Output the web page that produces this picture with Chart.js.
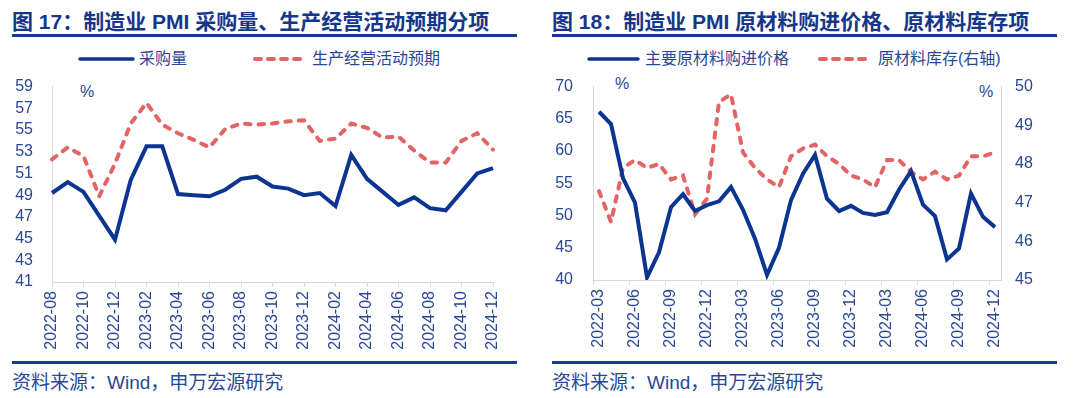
<!DOCTYPE html>
<html>
<head>
<meta charset="utf-8">
<script src="https://cdn.jsdelivr.net/npm/chart.js@4.4.1/dist/chart.umd.min.js"></script>
<style>
  body { margin: 0; width: 1080px; height: 398px; background: #fff; position: relative; overflow: hidden;
         font-family: "Liberation Sans", "Noto Sans CJK SC", sans-serif; color: #2a4795; }
  .panel { position: absolute; top: 0; width: 540px; height: 398px; }
  .title { position: absolute; left: 12px; top: 10px; font-size: 21px; font-weight: bold; color: #16368a;
           line-height: 24px; white-space: nowrap; }
  .rule { position: absolute; left: 12px; width: 505px; height: 3px; background: #133b90; }
  .lg { position: absolute; top: 50px; font-size: 16px; line-height: 18px; white-space: nowrap; }
  .lgline { position: absolute; top: 54px; }
  .pct { position: absolute; font-size: 16px; line-height: 18px; }
  .src { position: absolute; left: 12px; top: 372px; font-size: 19px; line-height: 22px; white-space: nowrap; }
  canvas { position: absolute; left: 0; }
</style>
</head>
<body>
<div class="panel" style="left:0">
  <div class="title">图 17：制造业 PMI 采购量、生产经营活动预期分项</div>
  <div class="rule" style="top:34px"></div>
  <svg class="lgline" style="left:75px" width="64" height="10"><line x1="5" y1="5" x2="58" y2="5" stroke="#0b3590" stroke-width="3.5" stroke-linecap="round"/></svg>
  <div class="lg" style="left:139px">采购量</div>
  <svg class="lgline" style="left:250px" width="62" height="10"><line x1="5" y1="5" x2="56" y2="5" stroke="#e26464" stroke-width="4" stroke-linecap="round" stroke-dasharray="6 7"/></svg>
  <div class="lg" style="left:312px">生产经营活动预期</div>
  <div class="pct" style="left:80px;top:83px">%</div>
  <canvas id="c17" width="540" height="302" style="top:58px"></canvas>
  <div class="rule" style="top:361px"></div>
  <div class="src">资料来源：Wind，申万宏源研究</div>
</div>
<div class="panel" style="left:540px">
  <div class="title">图 18：制造业 PMI 原材料购进价格、原材料库存项</div>
  <div class="rule" style="top:34px"></div>
  <svg class="lgline" style="left:44px" width="60" height="10"><line x1="5" y1="5" x2="54" y2="5" stroke="#0b3590" stroke-width="3.5" stroke-linecap="round"/></svg>
  <div class="lg" style="left:105px">主要原材料购进价格</div>
  <svg class="lgline" style="left:275px" width="62" height="10"><line x1="5" y1="5" x2="56" y2="5" stroke="#e26464" stroke-width="4" stroke-linecap="round" stroke-dasharray="6 7"/></svg>
  <div class="lg" style="left:338px">原材料库存(右轴)</div>
  <div class="pct" style="left:75px;top:75px">%</div>
  <div class="pct" style="left:439px;top:83px">%</div>
  <canvas id="c18" width="540" height="303" style="top:57px"></canvas>
  <div class="rule" style="top:361px"></div>
  <div class="src">资料来源：Wind，申万宏源研究</div>
</div>
<script>
// figure 17: purchase quantity vs production expectations
const months17 = ['2022-08','2022-09','2022-10','2022-11','2022-12',
  '2023-01','2023-02','2023-03','2023-04','2023-05','2023-06','2023-07','2023-08','2023-09','2023-10','2023-11','2023-12',
  '2024-01','2024-02','2024-03','2024-04','2024-05','2024-06','2024-07','2024-08','2024-09','2024-10','2024-11','2024-12'];
const purchase = [49.2, 50.2, 49.3, 47.1, 44.9,
  50.4, 53.5, 53.5, 49.1, 49.0, 48.9, 49.5, 50.5, 50.7, 49.8, 49.6, 49.0,
  49.2, 48.0, 52.7, 50.5, 49.3, 48.1, 48.8, 47.8, 47.6, 49.3, 51.0, 51.5];
const expectation = [52.3, 53.4, 52.6, 48.9, 51.9,
  55.6, 57.5, 55.5, 54.7, 54.1, 53.4, 55.1, 55.6, 55.5, 55.6, 55.8, 55.9,
  54.0, 54.2, 55.6, 55.2, 54.3, 54.4, 53.1, 52.0, 52.0, 54.0, 54.7, 53.2];
const yRange17 = [41, 59, 2];

// figure 18: input price vs raw material inventory (right axis)
const months18 = ['2022-03','2022-04','2022-05','2022-06','2022-07','2022-08','2022-09','2022-10','2022-11','2022-12',
  '2023-01','2023-02','2023-03','2023-04','2023-05','2023-06','2023-07','2023-08','2023-09','2023-10','2023-11','2023-12',
  '2024-01','2024-02','2024-03','2024-04','2024-05','2024-06','2024-07','2024-08','2024-09','2024-10','2024-11','2024-12'];
const inputPrice = [66.1, 64.2, 55.8, 52.0, 40.4, 44.3, 51.3, 53.3, 50.7, 51.6,
  52.2, 54.4, 50.9, 46.4, 40.8, 45.0, 52.4, 56.5, 59.4, 52.6, 50.7, 51.5,
  50.4, 50.1, 50.5, 54.0, 56.9, 51.7, 49.9, 43.2, 44.9, 53.4, 49.8, 48.2];
const rawStock = [47.3, 46.5, 47.9, 48.1, 47.9, 48.0, 47.6, 47.7, 46.7, 47.1,
  49.6, 49.8, 48.3, 47.9, 47.6, 47.4, 48.2, 48.4, 48.5, 48.2, 48.0, 47.7,
  47.6, 47.4, 48.1, 48.1, 47.8, 47.6, 47.8, 47.6, 47.7, 48.2, 48.2, 48.3];
const yLeft18 = [40, 70, 5];
const yRight18 = [45, 50, 1];

const TXT = '#2a4795';
const AXIS = '#d9d9d9';
const BLUE = '#0b3590';
const RED = '#e26464';
const tickFont = { family: '"Liberation Sans", Arial, sans-serif', size: 16 };

function xAxis(labels, every, offset, height) {
  return {
    type: 'category',
    offset: offset,
    grid: {
      display: true, offset: offset, drawOnChartArea: false, drawTicks: true, tickLength: 5,
      color: ctx => (ctx.index % every === 0 ? AXIS : 'rgba(0,0,0,0)')
    },
    border: { display: true, color: AXIS, width: 1 },
    ticks: {
      autoSkip: false, minRotation: 90, maxRotation: 90, padding: 4, color: TXT, font: tickFont,
      callback: (v, i) => (i % every === 0 ? labels[i] : '')
    },
    afterFit: s => { s.height = height; }
  };
}

function yAxis(position, range, width, pad) {
  return {
    position: position, min: range[0], max: range[1],
    grid: { display: true, drawOnChartArea: false, drawTicks: false },
    border: { display: true, color: AXIS, width: 1 },
    ticks: { stepSize: range[2], autoSkip: false, padding: pad, color: TXT, font: tickFont },
    afterFit: s => { s.width = width; }
  };
}

function solid(label, data, axis) {
  return { label, data, yAxisID: axis, borderColor: BLUE, borderWidth: 4, pointRadius: 0, tension: 0, fill: false };
}
function dashed(label, data, axis) {
  return { label, data, yAxisID: axis, borderColor: RED, borderWidth: 4, borderDash: [5.5, 8],
           borderCapStyle: 'round', pointRadius: 0, tension: 0, fill: false };
}

const common = {
  responsive: false,
  animation: false,
  devicePixelRatio: 1,
  plugins: { legend: { display: false }, tooltip: { enabled: false } }
};

// top padding comes from the y tick labels (half label + tick padding)
new Chart(document.getElementById('c17'), {
  type: 'line',
  data: {
    labels: months17,
    datasets: [solid('采购量', purchase, 'y'), dashed('生产经营活动预期', expectation, 'y')]
  },
  options: Object.assign({}, common, {
    layout: { padding: { left: 12, right: 47, top: 0, bottom: 0 } },
    scales: {
      x: xAxis(months17, 2, false, 78),
      y: yAxis('left', yRange17, 40, 19)
    }
  })
});

new Chart(document.getElementById('c18'), {
  type: 'line',
  data: {
    labels: months18,
    datasets: [solid('主要原材料购进价格', inputPrice, 'y'), dashed('原材料库存(右轴)', rawStock, 'y1')]
  },
  options: Object.assign({}, common, {
    layout: { padding: { left: 13, right: 39, top: 0, bottom: 0 } },
    scales: {
      x: xAxis(months18, 3, true, 80),
      y: yAxis('left', yLeft18, 40, 20),
      y1: yAxis('right', yRight18, 40, 14)
    }
  })
});
</script>
</body>
</html>
